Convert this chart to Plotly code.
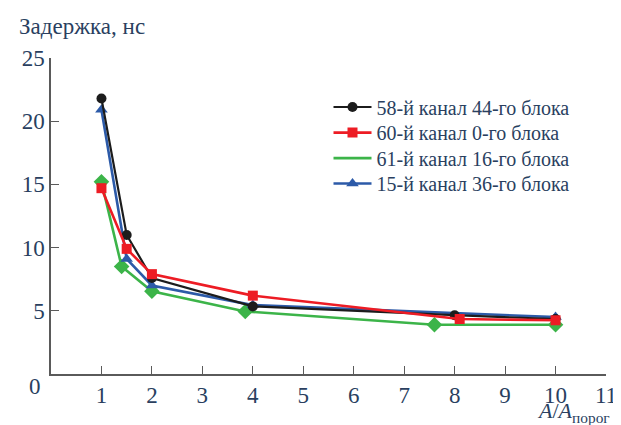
import plotly.graph_objects as go

# Data
names = ["58-й канал 44-го блока", "60-й канал 0-го блока",
         "61-й канал 16-го блока", "15-й канал 36-го блока"]
black_x = [1, 1.5, 2, 4, 8, 10]
black_y = [21.8, 11.0, 7.6, 5.35, 4.65, 4.35]
red_x = [1, 1.5, 2, 4, 8.1, 10]
red_y = [14.7, 9.9, 7.9, 6.2, 4.35, 4.25]
green_x = [1, 1.4, 2, 3.85, 7.6, 10]
green_y = [15.2, 8.5, 6.55, 4.95, 3.9, 3.9]
blue_x = [1, 1.5, 2, 4, 10]
blue_y = [20.9, 9.1, 7.0, 5.45, 4.5]
x_ticks = [1, 2, 3, 4, 5, 6, 7, 8, 9, 10, 11]
y_ticks = [5, 10, 15, 20, 25]

BLACK = "#1c1c1c"
RED = "#ed1c24"
GREEN = "#3cb449"
BLUE = "#2c5aa8"
AXIS = "#5a5a5a"
FONT = "Liberation Serif"

fig = go.Figure()
fig.add_trace(go.Scatter(x=green_x, y=green_y, mode="lines+markers", showlegend=False,
                         line=dict(color=GREEN, width=2.6),
                         marker=dict(symbol="diamond", size=12, color=GREEN)))
fig.add_trace(go.Scatter(x=blue_x, y=blue_y, mode="lines+markers", name=names[3], legend="legend4",
                         line=dict(color=BLUE, width=2.6),
                         marker=dict(symbol="triangle-up", size=11, color=BLUE)))
fig.add_trace(go.Scatter(x=black_x, y=black_y, mode="lines+markers", name=names[0], legend="legend",
                         line=dict(color=BLACK, width=2.2),
                         marker=dict(symbol="circle", size=10, color=BLACK)))
fig.add_trace(go.Scatter(x=red_x, y=red_y, mode="lines+markers", name=names[1], legend="legend2",
                         line=dict(color=RED, width=2.6),
                         marker=dict(symbol="square", size=10, color=RED)))
fig.add_trace(go.Scatter(x=[None], y=[None], mode="lines", name=names[2], legend="legend3",
                         line=dict(color=GREEN, width=2.6)))

def leg(y):
    return dict(x=0.5, y=y, xanchor="left", yanchor="middle",
                font=dict(family=FONT, size=20), bgcolor="rgba(0,0,0,0)", itemwidth=38)

fig.update_layout(
    width=621, height=425,
    margin=dict(l=43, r=13, t=50, b=59),
    plot_bgcolor="white",
    showlegend=True,
    legend=leg(0.845), legend2=leg(0.764), legend3=leg(0.683), legend4=leg(0.603),
)
fig.update_xaxes(range=[0, 11], tickvals=x_ticks, ticks="inside", ticklen=8, tickwidth=1.2,
                 tickcolor=AXIS, showline=True, linecolor=AXIS, linewidth=1.5,
                 showgrid=False, zeroline=False, tickfont=dict(family=FONT, size=23))
fig.update_yaxes(range=[0, 25], tickvals=y_ticks, ticks="inside", ticklen=8, tickwidth=1.2,
                 tickcolor=AXIS, showline=True, linecolor=AXIS, linewidth=1.5,
                 showgrid=False, zeroline=False, tickfont=dict(family=FONT, size=23))
fig.add_annotation(text="Задержка, нс", xref="paper", yref="paper", x=0, y=1,
                   xanchor="left", yanchor="bottom", xshift=-34, yshift=17,
                   showarrow=False, font=dict(family=FONT, size=23))
fig.add_annotation(text="0", xref="paper", yref="paper", x=0, y=0,
                   xanchor="center", yanchor="top", xshift=-16, yshift=2,
                   showarrow=False, font=dict(family=FONT, size=23))
fig.add_annotation(text="<i>A</i>/<i>A</i><sub>порог</sub>", xref="paper", yref="paper", x=1, y=0,
                   xanchor="right", yanchor="top", xshift=6, yshift=-22,
                   showarrow=False, font=dict(family=FONT, size=22))

fig.write_html("out.html")
